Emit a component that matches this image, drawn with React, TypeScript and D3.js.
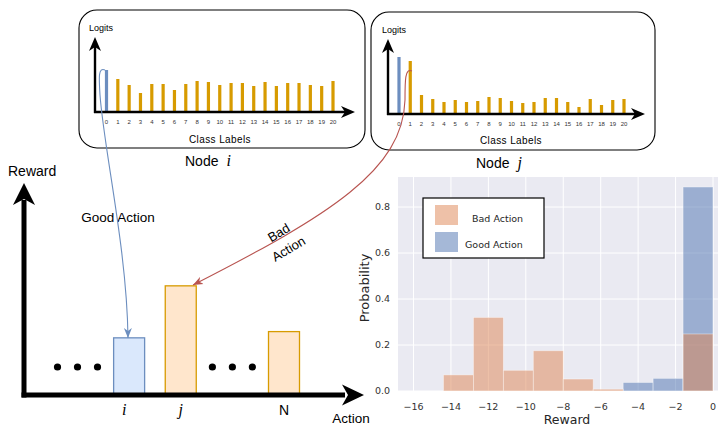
import React from "react";
import * as d3 from "d3";

// ---------- data ----------
const classLabels = ["0","1","2","3","4","5","6","7","8","9","10","11","12","13","14","15","16","17","18","19","20"];
const logitsNodeI = [42, 33, 27, 19, 28, 28, 22, 28, 31, 30, 27, 29, 29, 26, 30, 26, 29, 29, 27, 26, 31];
const logitsNodeJ = [57, 53, 19, 15, 12, 14, 12, 13, 17, 16, 13, 11, 12, 16, 16, 12, 7, 15, 9, 14, 15];

const actionSlots = ["dotsLeft", "i", "j", "dotsRight", "N"];
const rewardActions = ["i", "j", "N"];
const rewardValues = [0.27, 0.52, 0.3];
const rewardStyles = ["good", "bad", "bad"];

const binEdges = [-14.4, -12.8, -11.2, -9.6, -8.0, -6.4, -4.8, -3.2, -1.6, 0];
const badActionProb = [0.07, 0.32, 0.09, 0.175, 0.052, 0.008, 0, 0, 0.248];
const goodActionProb = [0, 0, 0, 0, 0, 0, 0.037, 0.055, 0.887];
const histXTicks = [-16, -14, -12, -10, -8, -6, -4, -2, 0];
const histYTicks = [0, 0.2, 0.4, 0.6, 0.8];
const legendLabels = ["Bad Action", "Good Action"];

// ---------- style ----------
const W = 718, H = 426;
const SANS = "'Liberation Sans', Arial, sans-serif";
const SERIF = "'Liberation Serif', 'Times New Roman', serif";
const MPL = "'DejaVu Sans', sans-serif";
const BLUE_STROKE = "#6c8ebf";
const BLUE_FILL = "#dae8fc";
const ORANGE_STROKE = "#d79b00";
const ORANGE_FILL = "#ffe6cc";
const RED = "#b85450";
const GOOD_HIST = "#4c72b0";
const BAD_HIST = "#dd8452";

function arrowUp(x: number, y: number, len: number, hw: number, notch: number) {
  return `M${x},${y} L${x + hw},${y + len} L${x},${y + len - notch} L${x - hw},${y + len} Z`;
}
function arrowRight(x: number, y: number, len: number, hw: number, notch: number) {
  return `M${x},${y} L${x - len},${y - hw} L${x - len + notch},${y} L${x - len},${y + hw} Z`;
}

type LogitPanelProps = {
  box: { x: number; y: number; w: number; h: number };
  axisX: number; baseY: number; topY: number; rightX: number;
  firstX: number; lastX: number;
  values: number[];
  nodeName: string; nodeX: number; nodeY: number;
  classCenterX: number; classY: number; tickY: number;
};

function LogitPanel(p: LogitPanelProps) {
  const x = d3.scaleLinear().domain([0, classLabels.length - 1]).range([p.firstX, p.lastX]);
  const y = d3.scaleLinear().domain([0, 60]).range([p.baseY, p.baseY - 60]);
  const bw = 3.2;
  return (
    <g>
      <rect x={p.box.x} y={p.box.y} width={p.box.w} height={p.box.h} rx={18} ry={18}
        fill="white" stroke="black" strokeWidth={1.1} />
      <text x={p.axisX - 6} y={p.topY - 6} fontFamily={SANS} fontSize={9} fill="black">Logits</text>
      {p.values.map((v, i) => (
        <rect key={i} x={x(i) - bw / 2} y={y(v)} width={bw} height={p.baseY - y(v)}
          fill={i === 0 ? BLUE_STROKE : ORANGE_STROKE} />
      ))}
      <line x1={p.axisX} y1={p.baseY + 1} x2={p.axisX} y2={p.topY + 10} stroke="black" strokeWidth={2.4} />
      <path d={arrowUp(p.axisX, p.topY, 14, 6, 4)} fill="black" />
      <line x1={p.axisX - 1} y1={p.baseY} x2={p.rightX - 10} y2={p.baseY} stroke="black" strokeWidth={2.4} />
      <path d={arrowRight(p.rightX, p.baseY, 14, 6, 4)} fill="black" />
      {classLabels.map((c, i) => (
        <text key={c} x={x(i)} y={p.tickY} textAnchor="middle" fontFamily={SANS} fontSize={6} fill="#333">{c}</text>
      ))}
      <text x={p.classCenterX} y={p.classY} textAnchor="middle" fontFamily={SANS} fontSize={10}
        letterSpacing={0.4} fill="black">Class Labels</text>
      <text x={p.nodeX} y={p.nodeY} fontFamily={SANS} fontSize={14} fill="black">
        Node
        <tspan dx={8} fontFamily={SERIF} fontStyle="italic" fontSize={16}>{p.nodeName}</tspan>
      </text>
    </g>
  );
}

function RewardChart() {
  const xs = d3.scalePoint().domain(actionSlots).range([77.5, 284]);
  const y = d3.scaleLinear().domain([0, 1]).range([394, 186]);
  const bw = 31;
  const axisX = 24, axisY = 395;
  return (
    <g>
      <text x={8} y={176} fontFamily={SANS} fontSize={14} fill="black">Reward</text>
      {rewardActions.map((a, i) => {
        const cx = xs(a) as number;
        const good = rewardStyles[i] === "good";
        return (
          <rect key={a} x={cx - bw / 2} y={y(rewardValues[i])} width={bw} height={y(0) - y(rewardValues[i])}
            fill={good ? BLUE_FILL : ORANGE_FILL} stroke={good ? BLUE_STROKE : ORANGE_STROKE} strokeWidth={1.3} />
        );
      })}
      {["dotsLeft", "dotsRight"].map((s) =>
        [-20, 0, 20].map((d) => (
          <circle key={s + d} cx={(xs(s) as number) + d} cy={367} r={3.6} fill="black" />
        ))
      )}
      <line x1={axisX} y1={axisY + 2.5} x2={axisX} y2={200} stroke="black" strokeWidth={5} />
      <path d={arrowUp(axisX, 183, 22, 11, 6)} fill="black" />
      <line x1={axisX - 2.5} y1={axisY} x2={345} y2={axisY} stroke="black" strokeWidth={5} />
      <path d={arrowRight(364, axisY, 22, 10.5, 6)} fill="black" />
      {rewardActions.map((a) => (
        <text key={a} x={(xs(a) as number) - (a === "i" ? 5 : 0)} y={415} textAnchor="middle"
          fontFamily={a === "N" ? SANS : SERIF} fontStyle={a === "N" ? "normal" : "italic"}
          fontSize={a === "N" ? 14 : 16} fill="black">{a}</text>
      ))}
      <text x={351} y={423} textAnchor="middle" fontFamily={SANS} fontSize={13.5} fill="black">Action</text>
      <text x={118} y={222} textAnchor="middle" fontFamily={SANS} fontSize={13.5} fill="black">Good Action</text>
      <g transform="translate(279,233) rotate(-31)">
        <text x={0} y={4} textAnchor="middle" fontFamily={SANS} fontSize={13} fill="black">Bad</text>
        <text x={0} y={23} textAnchor="middle" fontFamily={SANS} fontSize={13} fill="black">Action</text>
      </g>
    </g>
  );
}

function Histogram() {
  const left = 398, right = 718, top = 177, bottom = 391;
  const x = d3.scaleLinear().domain([-16, 0]).range([413.5, 713]);
  const y = d3.scaleLinear().domain([0, 0.8]).range([bottom, 207]);
  const fmtX = d3.format("d");
  const fmtY = d3.format(".1f");
  const bins = binEdges.slice(0, -1).map((e, i) => ({ x0: e, x1: binEdges[i + 1], good: goodActionProb[i], bad: badActionProb[i] }));
  return (
    <g>
      <rect x={left} y={top} width={right - left} height={bottom - top} fill="#eaeaf2" />
      {histXTicks.map((t) => (
        <line key={"gx" + t} x1={x(t)} x2={x(t)} y1={top} y2={bottom} stroke="white" strokeWidth={1} />
      ))}
      {histYTicks.map((t) => (
        <line key={"gy" + t} x1={left} x2={right} y1={y(t)} y2={y(t)} stroke="white" strokeWidth={1} />
      ))}
      {bins.filter((b) => b.good > 0).map((b, i) => (
        <rect key={"g" + i} x={x(b.x0)} y={y(b.good)} width={x(b.x1) - x(b.x0)} height={bottom - y(b.good)}
          fill={GOOD_HIST} fillOpacity={0.5} stroke="white" strokeOpacity={0.5} strokeWidth={0.8} />
      ))}
      {bins.filter((b) => b.bad > 0).map((b, i) => (
        <rect key={"b" + i} x={x(b.x0)} y={y(b.bad)} width={x(b.x1) - x(b.x0)} height={bottom - y(b.bad)}
          fill={BAD_HIST} fillOpacity={0.5} stroke="white" strokeOpacity={0.5} strokeWidth={0.8} />
      ))}
      {histXTicks.map((t) => (
        <text key={"tx" + t} x={x(t)} y={409.5} textAnchor="middle" fontFamily={MPL} fontSize={9.5} fill="#333">{fmtX(t)}</text>
      ))}
      {histYTicks.map((t) => (
        <text key={"ty" + t} x={390} y={y(t) + 3.4} textAnchor="end" fontFamily={MPL} fontSize={9.5} fill="#333">{fmtY(t)}</text>
      ))}
      <text transform="translate(369,288) rotate(-90)" textAnchor="middle" fontFamily={MPL} fontSize={13} fill="#262626">Probability</text>
      <text x={567} y={424} textAnchor="middle" fontFamily={MPL} fontSize={12.5} fill="#262626">Reward</text>
      <rect x={423} y={198} width={121} height={60} fill="white" stroke="black" strokeWidth={1.2} />
      {legendLabels.map((l, i) => (
        <g key={l}>
          <rect x={435} y={205 + i * 27} width={23} height={20}
            fill={i === 0 ? BAD_HIST : GOOD_HIST} fillOpacity={0.5} />
          <text x={i === 0 ? 472 : 465} y={222 + i * 26} fontFamily={MPL} fontSize={9.5} fill="#262626">{l}</text>
        </g>
      ))}
    </g>
  );
}

export default function App() {
  return (
    <svg width={W} height={H} viewBox={`0 0 ${W} ${H}`} style={{ position: "absolute", left: 0, top: 0, background: "white" }}>
      <defs>
        <marker id="arrBlue" viewBox="0 0 10 8" markerUnits="userSpaceOnUse" markerWidth={10} markerHeight={9}
          refX={10} refY={4} orient="auto">
          <path d="M0,0 L10,4 L0,8 L3,4 Z" fill={BLUE_STROKE} />
        </marker>
        <marker id="arrRed" viewBox="0 0 10 8" markerUnits="userSpaceOnUse" markerWidth={10} markerHeight={9}
          refX={10} refY={4} orient="auto">
          <path d="M0,0 L10,4 L0,8 L3,4 Z" fill={RED} />
        </marker>
      </defs>
      <rect x={0} y={0} width={W} height={H} fill="white" />
      <Histogram />
      <LogitPanel box={{ x: 79, y: 10, w: 286, h: 138 }} axisX={95} baseY={112} topY={37} rightX={355}
        firstX={106.5} lastX={333} values={logitsNodeI} nodeName="i" nodeX={185} nodeY={166}
        classCenterX={220} classY={142.5} tickY={123.5} />
      <LogitPanel box={{ x: 371, y: 12, w: 284, h: 138 }} axisX={388} baseY={114} topY={39} rightX={645}
        firstX={399} lastX={624} values={logitsNodeJ} nodeName="j" nodeX={476} nodeY={168}
        classCenterX={511} classY={143.5} tickY={125.5} />
      <RewardChart />
      <path d="M105,70 C98,67 99,78 100,95 C104,150 127,250 128,338" fill="none" stroke={BLUE_STROKE}
        strokeWidth={1.1} markerEnd="url(#arrBlue)" />
      <path d="M412,71 C405,68 405,80 405,100 C403,170 330,215 193,285" fill="none" stroke={RED}
        strokeWidth={1.1} markerEnd="url(#arrRed)" />
    </svg>
  );
}
